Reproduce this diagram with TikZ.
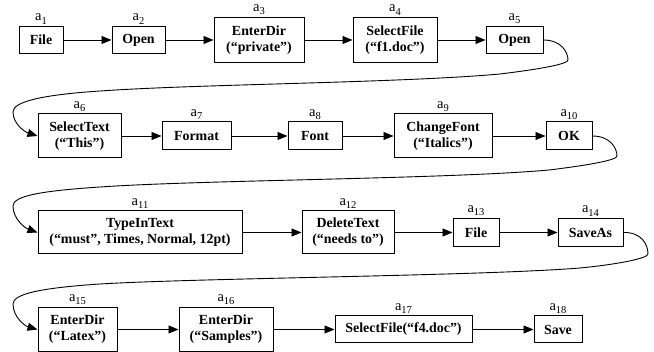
\documentclass[tikz,border=0pt]{standalone}
\usepackage{fontspec}
\setmainfont{Liberation Serif}
\usepackage{tikz}
\usetikzlibrary{arrows.meta}
\newcommand{\actlabel}[1]{a\raisebox{-3.3pt}{\fontsize{10.5}{12}\selectfont #1}}

\begin{document}
\begin{tikzpicture}[x=1pt, y=-1pt,
    act/.style={draw, line width=1pt, inner sep=0pt, align=center,
      font=\fontsize{13.9}{16}\selectfont\bfseries},
    arr/.style={line width=0.9pt, -{Triangle[length=10pt,width=8pt]}},
    every label/.style={inner sep=0pt, font=\fontsize{14.5}{16}\selectfont},
    label distance=1.7pt]
    \useasboundingbox (0,0) rectangle (654,352);

    % ---- row 1 ------------------------------------
    \node[act, minimum width=44pt, minimum height=27pt, label=above:\actlabel{1}] (a1) at (41,40) {File};
    \node[act, minimum width=53pt, minimum height=27pt, label=above:\actlabel{2}] (a2) at (138.5,40) {Open};
    \node[act, minimum width=90pt, minimum height=45pt, label=above:\actlabel{3}] (a3) at (259,40) {EnterDir\\(“private”)};
    \node[act, minimum width=84pt, minimum height=45pt, label=above:\actlabel{4}] (a4) at (395,40) {SelectFile\\(“f1.doc”)};
    \node[act, minimum width=57pt, minimum height=27pt, label=above:\actlabel{5}] (a5) at (514.5,40) {Open};

    % ---- row 2 ------------------------------------
    \node[act, minimum width=83pt, minimum height=44pt, label=above:\actlabel{6}] (a6) at (79.5,136) {SelectText\\(“This”)};
    \node[act, minimum width=69pt, minimum height=28pt, label=above:\actlabel{7}] (a7) at (196.5,136) {Format};
    \node[act, minimum width=54pt, minimum height=28pt, label=above:\actlabel{8}] (a8) at (315,136) {Font};
    \node[act, minimum width=98pt, minimum height=44pt, label=above:\actlabel{9}] (a9) at (443,136) {ChangeFont\\(“Italics”)};
    \node[act, minimum width=46pt, minimum height=28pt, label=above:\actlabel{10}] (a10) at (569,136) {OK};

    % ---- row 3 ------------------------------------
    \node[act, minimum width=204pt, minimum height=43pt, label=above:\actlabel{11}] (a11) at (140,232.5) {TypeInText\\(“must”, Times, Normal, 12pt)};
    \node[act, minimum width=92pt, minimum height=43pt, label=above:\actlabel{12}] (a12) at (348,232.5) {DeleteText\\(“needs to”)};
    \node[act, minimum width=46pt, minimum height=28pt, label=above:\actlabel{13}] (a13) at (476,232.5) {File};
    \node[act, minimum width=65pt, minimum height=28pt, label=above:\actlabel{14}] (a14) at (590.5,232.5) {SaveAs};

    % ---- row 4 ------------------------------------
    \node[act, minimum width=79pt, minimum height=44pt, label=above:\actlabel{15}] (a15) at (77.5,329.5) {EnterDir\\(“Latex”)};
    \node[act, minimum width=94pt, minimum height=44pt, label=above:\actlabel{16}] (a16) at (226,329.5) {EnterDir\\(“Samples”)};
    \node[act, minimum width=137pt, minimum height=27pt, label=above:\actlabel{17}] (a17) at (403.5,329.5) {SelectFile(“f4.doc”)};
    \node[act, minimum width=48pt, minimum height=27pt, label=above:\actlabel{18}] (a18) at (558,329.5) {Save};

    % ---- arrows within a row ----------------------
    \foreach \s/\t in {a1/a2, a2/a3, a3/a4, a4/a5, a6/a7, a7/a8, a8/a9, a9/a10,
                       a11/a12, a12/a13, a13/a14, a15/a16, a16/a17, a17/a18}
      \draw[arr] (\s) -- (\t);

    % ---- arrows wrapping to the next row ----------
    \draw[arr] (a5.east) .. controls (561,40) and (568,52) .. (568,60)
      .. controls (568,64) and (541,69) .. (500,74)
      .. controls (400,83) and (200,84) .. (100,91)
      .. controls (40,95) and (13,102) .. (13,112)
      .. controls (13,124) and (25,132) .. (a6.west);
    \draw[arr] (a10.east) .. controls (610,136) and (617,148) .. (617,156)
      .. controls (617,160) and (590,165) .. (549,170)
      .. controls (449,179) and (200,180) .. (100,187)
      .. controls (40,191) and (13,196) .. (13,206)
      .. controls (13,219) and (25,228) .. (a11.west);
    \draw[arr] (a14.east) .. controls (641,232) and (648,244) .. (648,254)
      .. controls (648,258) and (621,264) .. (580,268)
      .. controls (480,276) and (200,278) .. (100,284)
      .. controls (40,288) and (13,294) .. (13,304)
      .. controls (13,317) and (25,326) .. (a15.west);
\end{tikzpicture}
\end{document}
